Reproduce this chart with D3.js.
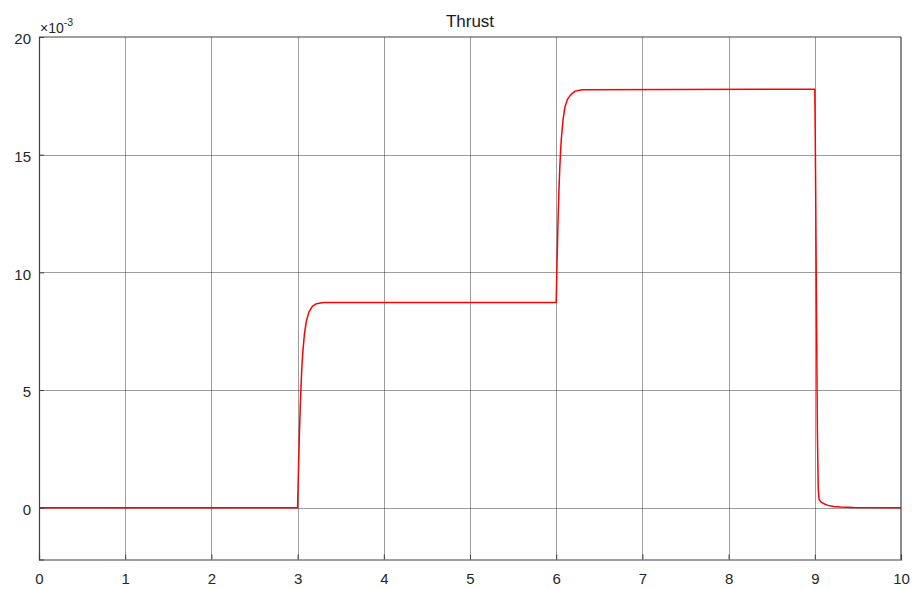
<!DOCTYPE html>
<html>
<head>
<meta charset="utf-8">
<script src="https://cdn.jsdelivr.net/npm/d3@7"></script>
<style>
  html, body { margin: 0; padding: 0; background: #fff; }
  svg { display: block; font-family: "Liberation Sans", Arial, sans-serif; }
</style>
</head>
<body>
<svg id="chart" width="912" height="589"></svg>
<script>
// Thrust response (units of 1e-3), sampled time in seconds
const times = [
  0, 3.0,
  3.01, 3.02, 3.03, 3.04, 3.05, 3.06, 3.08, 3.10, 3.13, 3.17, 3.22, 3.30,
  6.0,
  6.01, 6.02, 6.03, 6.04, 6.05, 6.06, 6.08, 6.10, 6.13, 6.17, 6.22, 6.30,
  9.0,
  9.005, 9.01, 9.02, 9.03, 9.04, 9.05, 9.07, 9.10, 9.15, 9.22, 9.30, 9.45, 10.0
];
const thrust = [
  0, 0,
  1.6, 3.0, 4.2, 5.2, 6.0, 6.6, 7.4, 7.9, 8.3, 8.55, 8.67, 8.72,
  8.72,
  10.5, 12.0, 13.3, 14.3, 15.1, 15.7, 16.5, 17.0, 17.35, 17.55, 17.7, 17.76,
  17.78,
  16.0, 13.5, 8.0, 3.2, 0.8, 0.35, 0.25, 0.18, 0.1, 0.05, 0.03, 0.01, 0
];
const xTicks = [0, 1, 2, 3, 4, 5, 6, 7, 8, 9, 10];
const yTicks = [0, 5, 10, 15, 20];
const xDomain = [0, 10];
const yDomain = [-2.2, 20];
const titleText = "Thrust";

const svg = d3.select("#chart");
const margin = { left: 39, right: 11, top: 37, bottom: 29.5 };
const W = 912, H = 589;
const x = d3.scaleLinear().domain(xDomain).range([margin.left, W - margin.right]);
const y = d3.scaleLinear().domain(yDomain).range([H - margin.bottom, margin.top]);

// grid lines
const grid = svg.append("g").attr("stroke", "#262626").attr("stroke-opacity", 0.45).attr("stroke-width", 1);
grid.selectAll("line.gx").data(xTicks.slice(1, -1)).join("line")
  .attr("x1", d => Math.round(x(d)) + 0.5).attr("x2", d => Math.round(x(d)) + 0.5)
  .attr("y1", y(20)).attr("y2", y(yDomain[0]));
grid.selectAll("line.gy").data(yTicks.filter(d => d < 20)).join("line")
  .attr("y1", d => Math.round(y(d)) + 0.5).attr("y2", d => Math.round(y(d)) + 0.5)
  .attr("x1", x(0)).attr("x2", x(10));

// data line
const line = d3.line().x((d, i) => x(times[i])).y(d => y(d));
svg.append("path")
  .datum(thrust)
  .attr("d", line)
  .attr("fill", "none")
  .attr("stroke", "#ff0000")
  .attr("stroke-width", 1.5)
  .attr("stroke-linejoin", "round");

// axes
const xAxis = d3.axisBottom(x).tickValues(xTicks).tickSize(-5).tickPadding(14).tickFormat(d3.format("d"));
const yAxis = d3.axisLeft(y).tickValues(yTicks).tickSize(-5).tickPadding(8).tickFormat(d3.format("d"));

const gx = svg.append("g").attr("transform", `translate(0,${y(yDomain[0])})`).call(xAxis);
const gy = svg.append("g").attr("transform", `translate(${x(0)},0)`).call(yAxis);
[gx, gy].forEach(g => {
  g.select(".domain").attr("stroke", "#404040").attr("stroke-width", 1.2);
  g.selectAll(".tick line").attr("stroke", "#404040");
  g.selectAll(".tick text").attr("fill", "#262626").attr("font-size", 15)
    .attr("font-family", "\"Liberation Sans\", Arial, sans-serif");
});
gy.selectAll(".tick text").attr("dy", "0.45em");

// box top and right edges
svg.append("line").attr("x1", x(0)).attr("x2", x(10)).attr("y1", y(20)).attr("y2", y(20))
  .attr("stroke", "#404040").attr("stroke-width", 1.2);
svg.append("line").attr("x1", x(10)).attr("x2", x(10)).attr("y1", y(20)).attr("y2", y(yDomain[0]))
  .attr("stroke", "#404040").attr("stroke-width", 1.2);

// exponent label
const ex = svg.append("text").attr("x", x(0) + 1).attr("y", y(20) - 4)
  .attr("fill", "#262626").attr("font-size", 14);
ex.append("tspan").text("\u00d710");
ex.append("tspan").attr("dy", -7).attr("font-size", 10.5).text("-3");

// title
svg.append("text")
  .attr("x", (x(0) + x(10)) / 2).attr("y", 26.5)
  .attr("text-anchor", "middle")
  .attr("fill", "#1a1a1a").attr("font-size", 17)
  .text(titleText);
</script>
</body>
</html>
